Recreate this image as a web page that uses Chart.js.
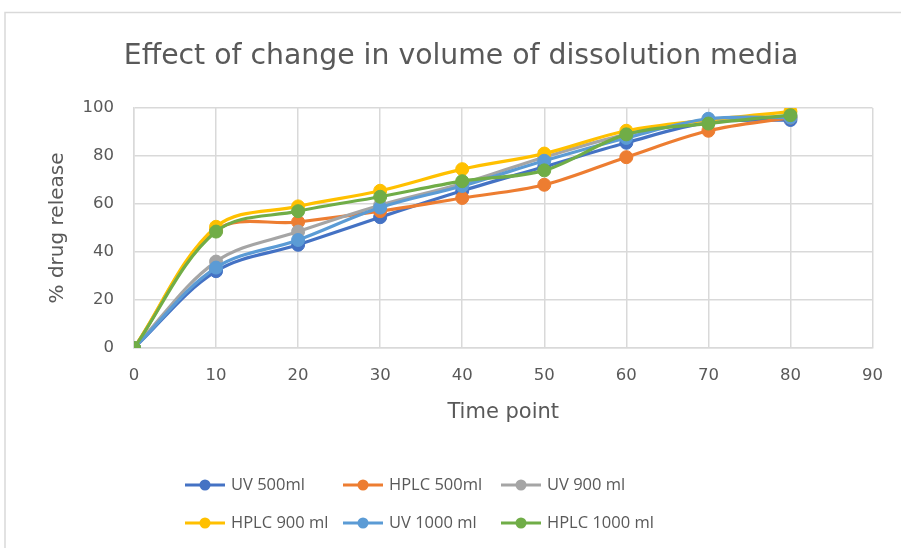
<!DOCTYPE html>
<html>
<head>
<meta charset="utf-8">
<script src="https://cdn.jsdelivr.net/npm/chart.js@4/dist/chart.umd.min.js"></script>
<style>
  html, body { margin: 0; padding: 0; background: #ffffff; }
  #wrap { position: relative; width: 901px; height: 548px; }
</style>
</head>
<body>
<div id="wrap"><canvas id="c" width="901" height="548"></canvas></div>
<script>
// Sampling times (min) and cumulative % drug release per method / media volume
const timePoints = [0, 10, 20, 30, 40, 50, 60, 70, 80];
const uv500    = [0, 32.0, 43.0, 54.5, 65.5, 75.5, 85.5, 94.0, 95.0];
const hplc500  = [0, 49.0, 52.5, 57.0, 62.5, 68.0, 79.5, 90.5, 96.0];
const uv900    = [0, 36.0, 48.5, 59.5, 68.5, 79.5, 89.0, 95.0, 96.5];
const hplc900  = [0, 50.5, 59.0, 65.5, 74.5, 81.0, 90.5, 95.0, 98.5];
const uv1000   = [0, 33.5, 45.0, 58.5, 67.5, 78.0, 87.5, 95.5, 96.0];
const hplc1000 = [0, 48.5, 57.0, 63.0, 69.5, 74.0, 89.0, 93.5, 97.0];
const seriesNames = ['UV 500ml', 'HPLC 500ml', 'UV 900 ml', 'HPLC 900 ml', 'UV 1000 ml', 'HPLC 1000 ml'];
const xTickValues = [0, 10, 20, 30, 40, 50, 60, 70, 80, 90];
const yTickValues = [0, 20, 40, 60, 80, 100];

const seriesValues = [uv500, hplc500, uv900, hplc900, uv1000, hplc1000];
const colors = ['#4472C4', '#ED7D31', '#A5A5A5', '#FFC000', '#5B9BD5', '#70AD47'];
const FONT = 'DejaVu Sans';
const LEGEND_FONT = 'Open Sans';
const TEXT = '#595959';
const GRID = '#d9d9d9';

const datasets = seriesValues.map((vals, i) => ({
  label: seriesNames[i],
  data: timePoints.map((t, k) => ({ x: t, y: vals[k] })),
  borderColor: colors[i],
  backgroundColor: colors[i],
  pointBackgroundColor: colors[i],
  pointBorderColor: colors[i],
  borderWidth: 3.2,
  pointRadius: 6.5,
  pointBorderWidth: 1,
  tension: 0.35,
  order: seriesValues.length - i
}));

// outer frame of the chart object
const framePlugin = {
  id: 'frame',
  beforeDraw(chart) {
    const ctx = chart.ctx;
    ctx.save();
    ctx.fillStyle = '#ffffff';
    ctx.fillRect(0, 0, chart.width, chart.height);
    ctx.strokeStyle = GRID;
    ctx.lineWidth = 1.5;
    ctx.beginPath();
    ctx.moveTo(5, chart.height + 5);
    ctx.lineTo(5, 12.5);
    ctx.lineTo(chart.width + 5, 12.5);
    ctx.stroke();
    ctx.restore();
  }
};

// two-row legend with line-and-marker swatches in fixed columns
const lineLegend = {
  id: 'lineLegend',
  afterDraw(chart) {
    const ctx = chart.ctx;
    const colX = [185, 343, 501];
    const rowY = [485, 523];
    ctx.save();
    ctx.font = '16.5px "' + LEGEND_FONT + '"';
    ctx.textBaseline = 'middle';
    ctx.textAlign = 'left';
    chart.data.datasets.forEach((ds, i) => {
      const x = colX[i % 3];
      const y = rowY[Math.floor(i / 3)];
      ctx.strokeStyle = ds.borderColor;
      ctx.lineWidth = 3;
      ctx.beginPath();
      ctx.moveTo(x, y);
      ctx.lineTo(x + 40, y);
      ctx.stroke();
      ctx.fillStyle = ds.borderColor;
      ctx.beginPath();
      ctx.arc(x + 20, y, 5.5, 0, Math.PI * 2);
      ctx.fill();
      ctx.fillStyle = TEXT;
      ctx.fillText(ds.label, x + 46, y);
    });
    ctx.restore();
  }
};

new Chart(document.getElementById('c'), {
  type: 'line',
  data: { datasets },
  options: {
    responsive: false,
    animation: false,
    layout: { padding: { left: 47, right: 26, top: 0, bottom: 0 } },
    plugins: {
      legend: { display: false },
      tooltip: { enabled: false },
      title: {
        display: true,
        text: 'Effect of change in volume of dissolution media',
        color: TEXT,
        font: { family: FONT, size: 28.3, weight: 'normal', lineHeight: 1.2 },
        padding: { top: 39.5, bottom: 34.5 }
      }
    },
    scales: {
      x: {
        type: 'linear',
        min: 0,
        max: 90,
        afterBuildTicks(scale) { scale.ticks = xTickValues.map(v => ({ value: v })); },
        afterFit(scale) { scale.height = 200; },
        grid: { color: GRID, lineWidth: 1.5, drawTicks: false },
        border: { color: GRID, width: 1.5 },
        ticks: { color: TEXT, font: { family: FONT, size: 16.5 }, padding: 18, maxRotation: 0 },
        title: {
          display: true,
          text: 'Time point',
          color: TEXT,
          font: { family: FONT, size: 21, lineHeight: 1.2 },
          padding: { top: 0, bottom: 122.4 }
        }
      },
      y: {
        min: 0,
        max: 100,
        afterBuildTicks(scale) { scale.ticks = yTickValues.map(v => ({ value: v })); },
        afterFit(scale) { scale.width = 87; },
        grid: { color: GRID, lineWidth: 1.5, drawTicks: false },
        border: { color: GRID, width: 1.5 },
        ticks: { color: TEXT, font: { family: FONT, size: 16.5 }, padding: 20 },
        title: {
          display: true,
          text: '% drug release',
          color: TEXT,
          font: { family: FONT, size: 20, lineHeight: 1.1 },
          padding: { top: 0, bottom: 0 }
        }
      }
    }
  },
  plugins: [framePlugin, lineLegend]
});
</script>
</body>
</html>
